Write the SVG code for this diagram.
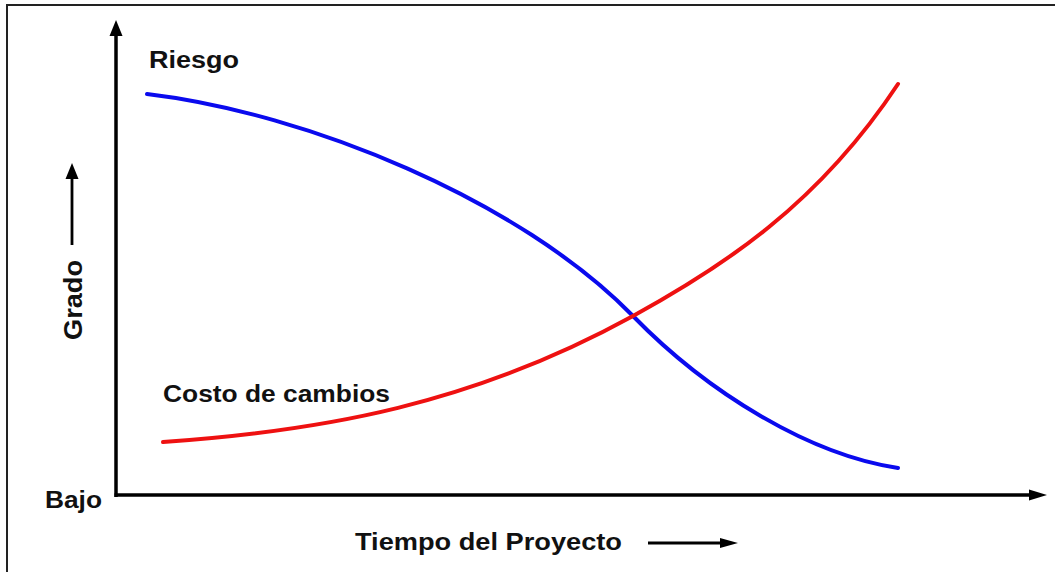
<svg xmlns="http://www.w3.org/2000/svg" width="1055" height="572" viewBox="0 0 1055 572">
<style>
.lbl{font-family:"Liberation Sans",Arial,sans-serif;font-weight:bold;fill:#111;}
.ax{stroke:#000;stroke-width:3.5;fill:none;}
.ah{fill:#000;stroke:none;}
.curve{fill:none;stroke-width:4;stroke-linecap:round;}
</style>
<rect x="0" y="0" width="1055" height="572" fill="#fff"/>
<rect x="7" y="5" width="1100" height="600" fill="none" stroke="#222" stroke-width="2"/>
<g id="connectors">
<line class="ax" x1="116" y1="497" x2="116" y2="34"/>
<polygon class="ah" points="116,20 109.5,36 122.5,36"/>
<line class="ax" x1="114.5" y1="495" x2="1031" y2="495"/>
<polygon class="ah" points="1047,495 1029,489.5 1029,500.5"/>
<line stroke="#000" stroke-width="2.8" x1="72" y1="245" x2="72" y2="176"/>
<polygon class="ah" points="72,163 65.5,179 78.5,179"/>
<line stroke="#000" stroke-width="3" x1="648" y1="543" x2="722" y2="543"/>
<polygon class="ah" points="738,543 720,538 720,548"/>
</g>
<g id="riesgo-curve">
<path class="curve" stroke="#0a0aee" d="M147,94 C307,113 520,200 633,316 C708,393 810,455 898,468"/>
</g>
<g id="costo-curve">
<path class="curve" stroke="#ee1111" d="M163,442 C323,431 473,404 633,316 C723,266.5 818,205 898,84"/>
</g>
<g id="label-riesgo"><text class="lbl" x="149" y="68" font-size="23" textLength="90" lengthAdjust="spacingAndGlyphs">Riesgo</text></g>
<g id="label-costo"><text class="lbl" x="163" y="402" font-size="23" textLength="227" lengthAdjust="spacingAndGlyphs">Costo de cambios</text></g>
<g id="label-bajo"><text class="lbl" x="45" y="508" font-size="23" textLength="57" lengthAdjust="spacingAndGlyphs">Bajo</text></g>
<g id="label-tiempo"><text class="lbl" x="355" y="550" font-size="23" textLength="267" lengthAdjust="spacingAndGlyphs">Tiempo del Proyecto</text></g>
<g id="label-grado"><text class="lbl" transform="translate(82,340) rotate(-90)" x="0" y="0" font-size="26" textLength="80" lengthAdjust="spacingAndGlyphs">Grado</text></g>
</svg>
